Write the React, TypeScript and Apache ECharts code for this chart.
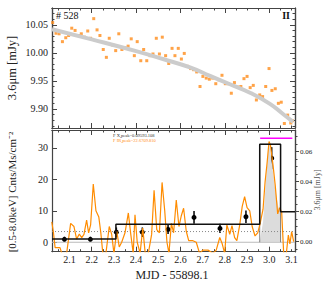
import React, { useEffect, useRef } from 'react';
import * as echarts from 'echarts';

// ---- data: top panel, 3.6 micron light curve ----
const irTimes = [2.024, 2.039, 2.053, 2.068, 2.083, 2.096, 2.110, 2.125, 2.140, 2.153, 2.167, 2.182, 2.195, 2.209, 2.224, 2.237, 2.252, 2.266, 2.279, 2.295, 2.308, 2.322, 2.336, 2.350, 2.364, 2.378, 2.392, 2.405, 2.421, 2.434, 2.448, 2.463, 2.476, 2.491, 2.505, 2.518, 2.533, 2.547, 2.562, 2.575, 2.590, 2.604, 2.617, 2.631, 2.646, 2.659, 2.673, 2.688, 2.701, 2.716, 2.730, 2.745, 2.759, 2.773, 2.787, 2.802, 2.815, 2.829, 2.843, 2.858, 2.872, 2.886, 2.900, 2.914, 2.928, 2.942, 2.957, 2.970, 2.984, 2.999, 3.012, 3.027, 3.041, 3.054, 3.068, 3.083, 3.097, 3.104];
const irFlux = [10.054, 10.035, 10.034, 10.020, 10.027, 10.031, 10.044, 10.040, 10.031, 10.034, 10.028, 10.039, 10.026, 10.061, 10.041, 10.031, 10.006, 9.992, 10.026, 10.014, 10.004, 10.034, 10.006, 10.009, 10.012, 10.025, 9.995, 10.020, 9.986, 10.006, 9.986, 9.995, 9.998, 10.026, 9.998, 10.028, 9.995, 9.981, 10.008, 9.995, 10.008, 9.989, 9.999, 9.976, 9.972, 9.970, 9.966, 9.940, 9.958, 9.955, 9.953, 9.955, 9.945, 9.952, 9.960, 9.945, 9.945, 9.928, 9.947, 9.939, 9.940, 9.954, 9.958, 9.938, 9.942, 9.916, 9.925, 9.922, 9.940, 9.972, 9.933, 9.936, 9.910, 9.912, 9.874, 9.889, 9.875, 9.879];
const fitTimes = [2.021, 2.2, 2.4, 2.521, 2.643, 2.733, 2.823, 2.913, 3.003, 3.062, 3.107];
const fitFlux = [10.042, 10.024, 10.003, 9.989, 9.974, 9.959, 9.944, 9.929, 9.909, 9.891, 9.877];

// ---- data: bottom panel, X-ray rate ----
const xrayTimes = [2.020, 2.027, 2.035, 2.045, 2.057, 2.065, 2.087, 2.105, 2.120, 2.132, 2.144, 2.155, 2.165, 2.177, 2.186, 2.195, 2.207, 2.219, 2.232, 2.241, 2.250, 2.264, 2.279, 2.290, 2.300, 2.313, 2.324, 2.335, 2.350, 2.365, 2.376, 2.387, 2.395, 2.405, 2.418, 2.430, 2.441, 2.455, 2.470, 2.481, 2.493, 2.505, 2.517, 2.529, 2.539, 2.548, 2.559, 2.569, 2.581, 2.593, 2.604, 2.614, 2.626, 2.637, 2.656, 2.671, 2.686, 2.701, 2.724, 2.746, 2.761, 2.777, 2.788, 2.799, 2.809, 2.822, 2.832, 2.844, 2.854, 2.867, 2.878, 2.889, 2.900, 2.912, 2.923, 2.936, 2.948, 2.959, 2.972, 2.981, 2.990, 2.999, 3.005, 3.017, 3.027, 3.038, 3.047, 3.056, 3.065, 3.077, 3.086, 3.093, 3.101, 3.110];
const xrayRate = [6.5, 3.4, -1.7, -1.7, -1.7, -3.5, -3.5, 6.0, 5.0, 1.0, 2.6, 1.5, 2.5, 7.0, 3.0, 5.5, 18.5, 10.0, 8.0, 3.0, -3.5, -3.5, 5.0, 2.5, -3.5, 3.5, -1.5, 0.0, 3.0, 9.3, 2.5, -3.5, 8.7, 0.0, -3.5, 4.5, -3.5, -3.5, 2.5, 16.5, 4.0, 3.0, 19.0, 10.0, 0.0, -3.5, 6.0, 3.0, 13.4, 5.0, 8.5, 10.8, 3.5, 0.5, 0.5, 0.0, -3.5, -2.5, -2.5, -3.5, -2.5, 1.5, -0.5, -3.5, 5.5, 2.5, 5.3, 1.5, 0.5, 5.5, 11.3, 14.5, 11.0, 10.0, 5.0, 2.0, 3.0, 6.0, 10.5, 19.0, 25.0, 32.0, 31.0, 24.5, 18.0, 9.0, 11.0, 9.5, -3.5, -3.5, 2.3, -0.5, 3.4, 0.2];
const binTimes = [2.077, 2.194, 2.311, 2.428, 2.544, 2.661, 2.778, 2.895, 3.011];
const binRate = [0.94, 0.94, 3.2, 3.2, 4.1, 7.9, 4.4, 8.1, 26.7];
const binErr = [0.8, 0.8, 1.5, 1.5, 1.5, 2.0, 1.5, 2.0, 3.5];
const blockEdges = [2.021, 2.309, 2.957, 3.051, 3.116];
const blockRates = [1.0, 5.7, 31.1, 9.7];
const meanRate = 3.4;
const flareTimes = [2.957, 2.972, 2.987, 2.999, 3.011, 3.026, 3.041, 3.051, 3.0511];
const flareFlux = [0.0, 0.0133, 0.0445, 0.0667, 0.0533, 0.0356, 0.0233, 0.0196, 0.0];
const flarePeak = 0.069;
const flarePeakSpan = [2.959, 3.104];

// ---- tick labels ----
const xLabels = [2.1, 2.2, 2.3, 2.4, 2.5, 2.6, 2.7, 2.8, 2.9, 3.0, 3.1];
const xMajor = [2.2, 2.4, 2.6, 2.8, 3.0];
const xMinor = [2.05, 2.1, 2.15, 2.2, 2.25, 2.3, 2.35, 2.4, 2.45, 2.5, 2.55, 2.6, 2.65, 2.7, 2.75, 2.8, 2.85, 2.9, 2.95, 3.0, 3.05, 3.1];
const irLabels = [9.90, 9.95, 10.00, 10.05];
const irMinor = [9.87, 9.88, 9.89, 9.90, 9.91, 9.92, 9.93, 9.94, 9.95, 9.96, 9.97, 9.98, 9.99, 10.00, 10.01, 10.02, 10.03, 10.04, 10.05, 10.06, 10.07];
const rateLabels = [0, 10, 20, 30];
const mjyLabels = [0.0, 0.02, 0.04, 0.06];
const mjyMinor = [-0.005, 0.0, 0.005, 0.01, 0.015, 0.02, 0.025, 0.03, 0.035, 0.04, 0.045, 0.05, 0.055, 0.06, 0.065, 0.07];

const X_MIN = 2.021, X_MAX = 3.116;
const IR_MIN = 9.866, IR_MAX = 10.080;
const R_MIN = -3.0, R_MAX = 35.65;
const M_MIN = -0.00667, M_MAX = 0.0745;
const FONT = 'Liberation Serif';
const AXC = '#444';

function xAx(grid: number, pos: string, ticks: number[], len: number, labels?: number[]) {
  return {
    type: 'value', gridIndex: grid, position: pos, min: X_MIN, max: X_MAX,
    splitLine: { show: false },
    axisLine: { show: true, onZero: false, lineStyle: { color: AXC, width: 1.2 } },
    axisTick: { show: true, inside: true, length: len, customValues: ticks, lineStyle: { color: AXC, width: 1 } },
    axisLabel: labels
      ? { show: true, customValues: labels, formatter: (v: number) => v.toFixed(1), margin: 3, fontSize: 10, fontFamily: FONT, color: '#222' }
      : { show: false },
  };
}

function yAx(grid: number, pos: string, min: number, max: number, ticks: number[], len: number, inside: boolean, labels?: number[], fmt?: (v: number) => string, fs = 10, margin = 4) {
  return {
    type: 'value', gridIndex: grid, position: pos, min, max,
    splitLine: { show: false },
    axisLine: { show: true, onZero: false, lineStyle: { color: AXC, width: 1.2 } },
    axisTick: { show: true, inside, length: len, customValues: ticks, lineStyle: { color: AXC, width: 1 } },
    axisLabel: labels
      ? { show: true, customValues: labels, formatter: fmt, margin, fontSize: fs, fontFamily: FONT, color: '#222' }
      : { show: false },
  };
}

export default function App() {
  const ref = useRef<HTMLDivElement>(null);
  useEffect(() => {
    if (!ref.current) return;
    const chart = echarts.init(ref.current, undefined, { renderer: 'svg' });
    const stepData: number[][] = [];
    blockRates.forEach((r, i) => {
      stepData.push([blockEdges[i], r]);
      stepData.push([blockEdges[i + 1], r]);
    });
    const boxData = [[blockEdges[2], 0], [blockEdges[2], blockRates[2]], [blockEdges[3], blockRates[2]], [blockEdges[3], 0]];
    const option: any = {
      animation: false,
      backgroundColor: '#fff',
      grid: [
        { left: 52, top: 8, width: 243, height: 120 },
        { left: 52, top: 130, width: 243, height: 121.7 },
      ],
      xAxis: [
        xAx(0, 'bottom', xMinor, 2.5),
        xAx(0, 'bottom', xMajor, 5),
        xAx(0, 'top', xMinor, 2.5),
        xAx(0, 'top', xMajor, 5),
        xAx(1, 'bottom', xMinor, 2.5),
        xAx(1, 'bottom', xMajor, 5, xLabels),
        xAx(1, 'top', xMinor, 2.5),
        xAx(1, 'top', xMajor, 5),
      ],
      yAxis: [
        yAx(0, 'left', IR_MIN, IR_MAX, irMinor, 2.5, true),
        yAx(0, 'left', IR_MIN, IR_MAX, irLabels, 5, true, irLabels, (v: number) => v.toFixed(2)),
        yAx(0, 'right', IR_MIN, IR_MAX, irMinor, 2.5, true),
        yAx(0, 'right', IR_MIN, IR_MAX, irLabels, 5, true),
        yAx(1, 'left', R_MIN, R_MAX, rateLabels, 5, true, rateLabels, (v: number) => String(Math.round(v))),
        yAx(1, 'right', M_MIN, M_MAX, mjyLabels, 4, false, mjyLabels, (v: number) => v.toFixed(2), 7, 5),
        yAx(1, 'right', M_MIN, M_MAX, mjyMinor, 2.5, false),
      ],
      series: [
        {
          type: 'line', xAxisIndex: 0, yAxisIndex: 0, smooth: true, showSymbol: false, silent: true,
          data: fitTimes.map((t, i) => [t, fitFlux[i]]),
          lineStyle: { color: '#cccccc', width: 4 },
        },
        {
          type: 'scatter', xAxisIndex: 0, yAxisIndex: 0, symbol: 'rect', symbolSize: 3,
          data: irTimes.map((t, i) => [t, irFlux[i]]),
          itemStyle: { color: '#ff8c1a' },
        },
        {
          type: 'line', xAxisIndex: 4, yAxisIndex: 5, showSymbol: false, silent: true,
          data: flareTimes.map((t, i) => [t, flareFlux[i]]),
          lineStyle: { width: 0 }, areaStyle: { color: '#dcdcdc', opacity: 1 },
        },
        {
          type: 'line', xAxisIndex: 4, yAxisIndex: 4, showSymbol: false, silent: true,
          data: [[X_MIN, 0], [X_MAX, 0]],
          lineStyle: { color: '#bbbbbb', width: 1 },
        },
        {
          type: 'line', xAxisIndex: 4, yAxisIndex: 4, showSymbol: false, silent: true,
          data: [[X_MIN, meanRate], [X_MAX, meanRate]],
          lineStyle: { color: '#888888', width: 1, type: [1, 2] },
        },
        {
          type: 'line', xAxisIndex: 4, yAxisIndex: 4, showSymbol: false, silent: true,
          data: boxData,
          lineStyle: { color: '#666666', width: 0.8 },
        },
        {
          type: 'line', xAxisIndex: 4, yAxisIndex: 4, showSymbol: false, silent: true, clip: true,
          data: xrayTimes.map((t, i) => [t, xrayRate[i]]),
          lineStyle: { color: '#ff8c00', width: 1.2 },
        },
        {
          type: 'line', xAxisIndex: 4, yAxisIndex: 4, showSymbol: false, silent: true,
          data: stepData,
          lineStyle: { color: '#111111', width: 1.5 },
        },
        {
          type: 'line', xAxisIndex: 4, yAxisIndex: 5, showSymbol: false, silent: true,
          data: [[flarePeakSpan[0], flarePeak], [flarePeakSpan[1], flarePeak]],
          lineStyle: { color: '#ff00ff', width: 1.5 },
        },
        {
          type: 'custom', xAxisIndex: 4, yAxisIndex: 4,
          data: binTimes.map((t, i) => [t, binRate[i], binErr[i]]),
          encode: { x: 0, y: 1 },
          renderItem: (params: any, api: any) => {
            const x = api.value(0), y = api.value(1), e = api.value(2);
            const p1 = api.coord([x, y - e]);
            const p2 = api.coord([x, y + e]);
            const c = api.coord([x, y]);
            return {
              type: 'group',
              children: [
                { type: 'line', shape: { x1: p1[0], y1: p1[1], x2: p2[0], y2: p2[1] }, style: { stroke: '#000', lineWidth: 1.5 } },
                { type: 'circle', shape: { cx: c[0], cy: c[1], r: 2.5 }, style: { fill: '#000' } },
              ],
            };
          },
        },
      ],
      graphic: [
        { type: 'text', x: 56, y: 15, style: { text: '# 528', fontSize: 10, fontFamily: FONT, fill: '#111', textVerticalAlign: 'middle' } },
        { type: 'text', x: 290, y: 15, style: { text: 'II', fontSize: 10, fontWeight: 'bold', fontFamily: FONT, fill: '#111', textAlign: 'right', textVerticalAlign: 'middle' } },
        { type: 'text', x: 12, y: 68, rotation: Math.PI / 2, style: { text: '3.6μm [mJy]', fontSize: 12.5, fontFamily: FONT, fill: '#222', textAlign: 'center', textVerticalAlign: 'middle' } },
        { type: 'text', x: 12, y: 192, rotation: Math.PI / 2, style: { text: '[0.5-8.0keV] Cnts/Ms/cm⁻²', fontSize: 11, fontFamily: FONT, fill: '#222', textAlign: 'center', textVerticalAlign: 'middle' } },
        { type: 'text', x: 172, y: 275, style: { text: 'MJD - 55898.1', fontSize: 12, fontFamily: FONT, fill: '#222', textAlign: 'center', textVerticalAlign: 'middle' } },
        { type: 'text', x: 317, y: 190, rotation: Math.PI / 2, style: { text: '3.6μm [mJy]', fontSize: 8, fontFamily: FONT, fill: '#555', textAlign: 'center', textVerticalAlign: 'middle' } },
        { type: 'text', x: 113, y: 135, style: { text: 'F X,peak=0.09593.108', fontSize: 4.5, fontFamily: FONT, fill: '#333', textVerticalAlign: 'middle' } },
        { type: 'text', x: 113, y: 140.5, style: { text: 'F IR,peak=22.6709.810', fontSize: 4.5, fontFamily: FONT, fill: '#ff8c1a', textVerticalAlign: 'middle' } },
      ],
    };
    chart.setOption(option);
    return () => chart.dispose();
  }, []);
  return <div ref={ref} style={{ position: 'fixed', left: 0, top: 0, width: 327, height: 286 }} />;
}
